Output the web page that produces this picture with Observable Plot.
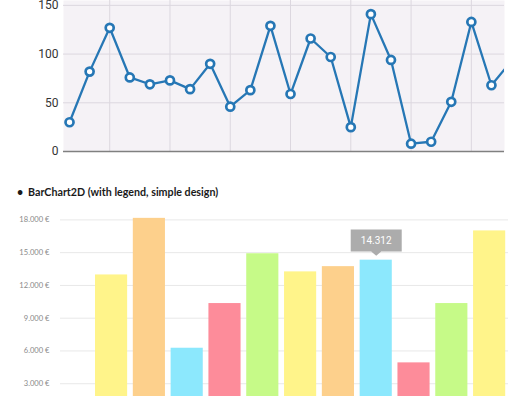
<!DOCTYPE html>
<html>
<head>
<meta charset="utf-8">
<script src="https://cdn.jsdelivr.net/npm/d3@7"></script>
<script src="https://cdn.jsdelivr.net/npm/@observablehq/plot@0.6"></script>
<style>
  html, body { margin: 0; padding: 0; background: #fff; }
  body { width: 511px; height: 396px; overflow: hidden; position: relative; }
  #line { position: absolute; left: 0; top: -10px; }
  #bars { position: absolute; left: 0; top: 195px; }
  #title { position: absolute; left: 17px; top: 186px; font-family: Lato, "Open Sans", sans-serif; font-weight: bold; font-size: 10.7px; line-height: 11px; color: #1a1a1a; white-space: nowrap; }
  #title .dot { display: inline-block; width: 11px; }
  svg { overflow: visible; }
</style>
</head>
<body>
<div id="line"></div>
<div id="title"><span class="dot">•</span><span id="ttext">BarChart2D (with legend, simple design)</span></div>
<div id="bars"></div>
<script>
// ---- Line chart data ----
const lineValues = [30, 82, 127, 76, 69, 73, 64, 90, 46, 63, 129, 59, 116, 97, 25, 141, 94, 8, 10, 51, 133, 68, 93];
const lineYTicks = [0, 50, 100, 150];
const lineGridX = [2, 5, 8, 11, 14, 17, 20];

// ---- Bar chart data ----
const barCategories = ["A", "B", "C", "D", "E", "F", "G", "H", "I", "J", "K"];
const barValues = [12960, 18140, 6250, 10340, 14900, 13240, 13720, 14312, 4910, 10340, 16990];
const barPalette = ["#fff48a", "#fdd08c", "#8ce8fd", "#fd8c9a", "#c6fa88"];
const barYTicks = [3000, 6000, 9000, 12000, 15000, 18000];
const highlighted = ["H"];

const deLocale = d3.formatLocale({decimal: ",", thousands: ".", grouping: [3], currency: ["", " €"]});
const euro = v => deLocale.format(",.0f")(v) + " €";
const num = deLocale.format(",.0f");

const lineData = lineValues.map((v, i) => ({i, v}));
const barData = barCategories.map((c, i) => ({cat: c, value: barValues[i]}));

const blue = "#2677b5";

const line = Plot.plot({
  width: 511,
  height: 166,
  marginTop: 10,
  marginBottom: 5,
  marginLeft: 63,
  marginRight: 7,
  style: {fontFamily: "Roboto, sans-serif", fontSize: "12px", color: "#333", background: "transparent"},
  x: {domain: [-0.3, 21.65], axis: null},
  y: {domain: [0, 155], ticks: lineYTicks, tickSize: 0, tickPadding: 5, label: null},
  marks: [
    Plot.frame({fill: "#f5f2f6", stroke: null}),
    Plot.ruleX(lineGridX, {stroke: "#dcd7df", strokeWidth: 1}),
    Plot.ruleY(lineYTicks.filter(d => d > 0), {stroke: "#dcd7df", strokeWidth: 1}),
    Plot.ruleY([0], {stroke: "#808080", strokeWidth: 1.6}),
    Plot.line(lineData, {x: "i", y: "v", stroke: blue, strokeWidth: 2.3, clip: true}),
    Plot.dot(lineData, {x: "i", y: "v", r: 4, fill: "white", stroke: blue, strokeWidth: 2.7, clip: true})
  ]
});
document.getElementById("line").appendChild(line);

const tipSymbol = {
  draw(ctx) {
    ctx.moveTo(-25.5, -30.7);
    ctx.lineTo(25.5, -30.7);
    ctx.lineTo(25.5, -8.7);
    ctx.lineTo(5, -8.7);
    ctx.lineTo(0, -4.5);
    ctx.lineTo(-5, -8.7);
    ctx.lineTo(-25.5, -8.7);
    ctx.closePath();
  }
};

const tipData = barData.filter(d => highlighted.includes(d.cat));

const bars = Plot.plot({
  width: 511,
  height: 241,
  marginTop: 8,
  marginBottom: 20,
  marginLeft: 60,
  marginRight: 3,
  style: {fontFamily: "Lato, 'Open Sans', sans-serif", fontSize: "7.6px", color: "#8a8a8a", background: "transparent"},
  x: {domain: barCategories, paddingInner: 0.15, paddingOuter: 0.5, align: 0.926, round: false, axis: null},
  y: {domain: [0, 19500], ticks: barYTicks, tickFormat: euro, tickSize: 0, tickPadding: 11, label: null},
  color: {domain: barCategories, range: barPalette},
  marks: [
    Plot.ruleY(barYTicks, {stroke: "#e8e8e8", strokeWidth: 1}),
    Plot.barY(barData, {x: "cat", y: "value", fill: "cat"}),
    Plot.dot(tipData, {x: "cat", y: "value", symbol: tipSymbol, r: 5, fill: "#acacac", stroke: null}),
    Plot.text(tipData, {x: "cat", y: "value", text: d => num(d.value), dy: -19.5, fill: "white", fontFamily: "Roboto, sans-serif", fontSize: 10, textAnchor: "middle"})
  ]
});
document.getElementById("bars").appendChild(bars);
</script>
</body>
</html>
